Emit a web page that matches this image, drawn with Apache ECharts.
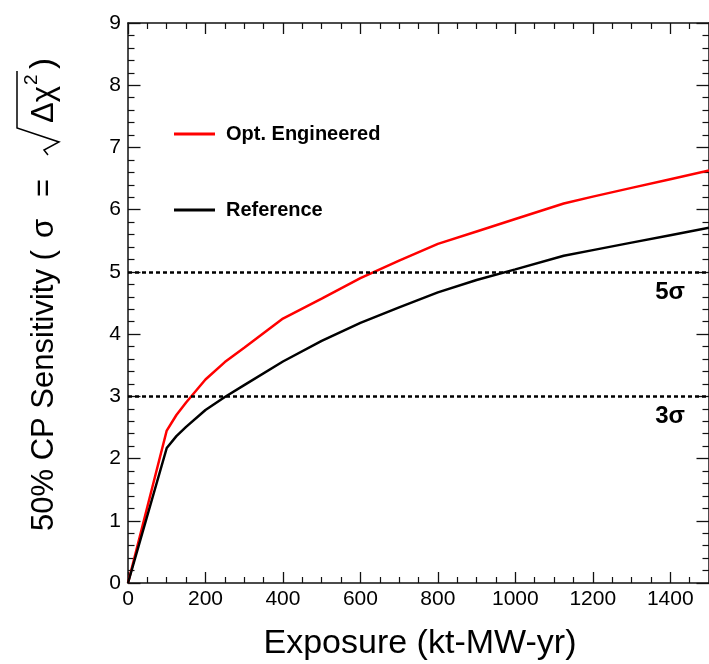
<!DOCTYPE html>
<html>
<head>
<meta charset="utf-8">
<style>
html,body{margin:0;padding:0;background:#fff;}
#c{width:709px;height:664px;}
</style>
<script src="https://cdn.jsdelivr.net/npm/echarts/dist/echarts.min.js"></script>
</head>
<body>
<div id="c"></div>
<script>
// ---- data ----
const exposure      = [0, 100, 125, 150, 200, 250, 300, 400, 500, 600, 700, 800, 900, 1000, 1125, 1200, 1300, 1400, 1500];
const optEngineered = [0, 2.45, 2.70, 2.90, 3.27, 3.55, 3.78, 4.25, 4.57, 4.90, 5.18, 5.45, 5.65, 5.85, 6.10, 6.21, 6.35, 6.49, 6.63];
const reference     = [0, 2.17, 2.36, 2.51, 2.78, 2.99, 3.18, 3.56, 3.89, 4.18, 4.43, 4.67, 4.87, 5.04, 5.26, 5.35, 5.47, 5.59, 5.71];
const seriesNames   = ['Opt. Engineered', 'Reference'];
const sigmaLevels   = [5, 3];
const sigmaLabels   = ['5σ', '3σ'];
const xRange = [0, 1500], xStep = 200;
const yRange = [0, 9], yStep = 1;
const xTitle = 'Exposure (kt-MW-yr)';
const yTitleMain = '50% CP Sensitivity (';

const FONT = '"Liberation Sans", Arial, Helvetica, sans-serif';
const chart = echarts.init(document.getElementById('c'), null, { renderer: 'canvas' });

const pairs = (xs, ys) => xs.map((x, i) => [x, ys[i]]);

// ---- y title group (rotated; local x runs up the page) ----
const f1 = '31px "Liberation Sans"';
function txt(t, x, y, font) {
  return { type: 'text', x: x, y: y, style: { text: t, font: font, fill: '#000', align: 'left', textAlign: 'left', verticalAlign: 'middle', textVerticalAlign: 'middle' } };
}
const yTitleGroup = {
  type: 'group', x: 44, y: 531, rotation: Math.PI / 2, silent: true,
  children: [
    txt(yTitleMain, 0, 0, f1),
    txt('σ', 293, 0, f1),
    txt('=', 334, 0, f1),
    { type: 'polyline', shape: { points: [[376, 4], [381, 0], [389, 15], [403, -27], [460, -27]] },
      style: { stroke: '#000', lineWidth: 1.5, fill: null } },
    txt('Δχ', 408, 0, f1),
    txt('2', 446, -12, '19px "Liberation Sans"'),
    txt(')', 462, 0, '33px "Liberation Sans"')
  ]
};

const axisCommon = {
  type: 'value',
  axisLine: { show: true, onZero: false, lineStyle: { color: '#111', width: 1.5 } },
  splitLine: { show: false },
  axisTick: { show: true, inside: true, length: 11, lineStyle: { color: '#111', width: 1.3 } },
  minorTick: { show: true, length: 6, lineStyle: { color: '#111', width: 1.2 } }
};

const legendText = { fontFamily: FONT, fontWeight: 'bold', fontSize: 20, lineHeight: 22, color: '#000', padding: [0, 0, 0, 6] };

const option = {
  animation: false,
  backgroundColor: '#fff',
  grid: { left: 128, top: 23, width: 586, height: 560, containLabel: false },
  xAxis: [
    Object.assign({}, axisCommon, {
      position: 'bottom', min: xRange[0], max: xRange[1], interval: xStep,
      minorTick: Object.assign({}, axisCommon.minorTick, { splitNumber: 4 }),
      axisLabel: { show: true, margin: 6, fontFamily: FONT, fontSize: 21, color: '#000', showMaxLabel: false, formatter: v => String(v) }
    }),
    Object.assign({}, axisCommon, {
      position: 'top', min: xRange[0], max: xRange[1], interval: xStep,
      minorTick: Object.assign({}, axisCommon.minorTick, { splitNumber: 4 }),
      axisLabel: { show: false }
    })
  ],
  yAxis: [
    Object.assign({}, axisCommon, {
      position: 'left', min: yRange[0], max: yRange[1], interval: yStep,
      axisTick: Object.assign({}, axisCommon.axisTick, { length: 12.5 }),
      minorTick: Object.assign({}, axisCommon.minorTick, { splitNumber: 5, length: 6.5 }),
      axisLabel: { show: true, margin: 7, fontFamily: FONT, fontSize: 21, color: '#000', formatter: v => String(v) }
    }),
    Object.assign({}, axisCommon, {
      position: 'right', min: yRange[0], max: yRange[1], interval: yStep,
      axisTick: Object.assign({}, axisCommon.axisTick, { length: 12.5 }),
      minorTick: Object.assign({}, axisCommon.minorTick, { splitNumber: 5, length: 6.5 }),
      axisLabel: { show: false }
    })
  ],
  legend: [
    { data: [seriesNames[0]], left: 174, top: 123, padding: 0, itemGap: 0, icon: 'rect', itemWidth: 41, itemHeight: 3, selectedMode: false, textStyle: legendText },
    { data: [seriesNames[1]], left: 174, top: 199, padding: 0, itemGap: 0, icon: 'rect', itemWidth: 41, itemHeight: 3, selectedMode: false, textStyle: legendText }
  ],
  graphic: [
    { type: 'text', x: 420, y: 644, silent: true,
      style: { text: xTitle, font: '34px "Liberation Sans"', fill: '#000', align: 'center', textAlign: 'center', verticalAlign: 'middle', textVerticalAlign: 'middle' } },
    yTitleGroup
  ],
  series: [
    { name: seriesNames[0], type: 'line', data: pairs(exposure, optEngineered), showSymbol: false, symbol: 'none',
      lineStyle: { color: '#ff0000', width: 2.5 }, itemStyle: { color: '#ff0000' }, z: 3 },
    { name: seriesNames[1], type: 'line', data: pairs(exposure, reference), showSymbol: false, symbol: 'none',
      lineStyle: { color: '#000', width: 2.5 }, itemStyle: { color: '#000' }, z: 4,
      markLine: {
        silent: true, symbol: 'none', animation: false,
        lineStyle: { color: '#000', type: [4, 3], width: 2.5 },
        label: { show: true, position: 'insideEndBottom', distance: [24, 8], fontFamily: FONT, fontSize: 24, fontWeight: 'bold', color: '#000' },
        data: sigmaLevels.map((v, i) => ({ yAxis: v, label: { formatter: sigmaLabels[i] } }))
      } }
  ]
};
chart.setOption(option);
</script>
</body>
</html>
